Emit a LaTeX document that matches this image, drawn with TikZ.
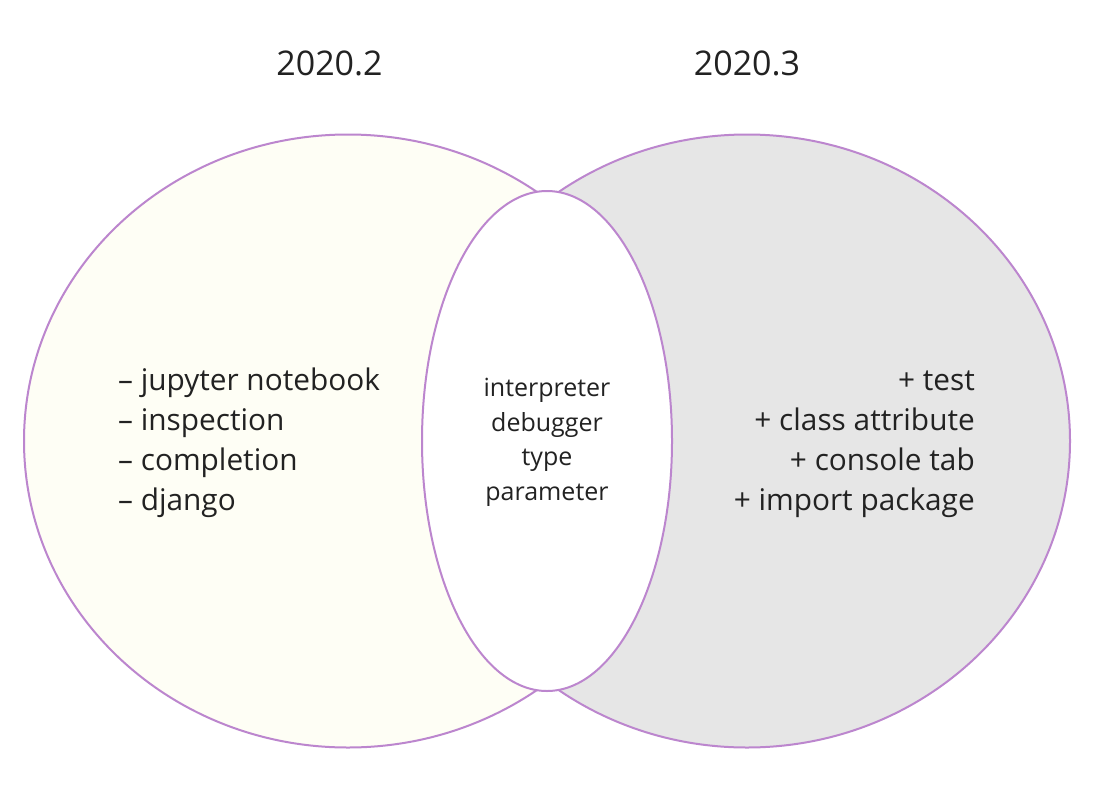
\documentclass[tikz,border=0pt]{standalone}
\usepackage{fontspec}
\setmainfont{Open Sans}
\definecolor{ringline}{HTML}{BC86CE}
\definecolor{oldfill}{HTML}{FEFEF5}
\definecolor{newfill}{HTML}{E6E6E6}
\definecolor{ink}{HTML}{222222}
\tikzset{
  ring/.style={draw=ringline,line width=2pt},
  title/.style={text=ink,font=\fontsize{34}{40}\selectfont,inner sep=0pt,anchor=base},
  item/.style={text=ink,font=\fontsize{29.8}{36}\selectfont,inner sep=0pt},
  shared/.style={text=ink,font=\fontsize{25}{30}\selectfont,inner sep=0pt,anchor=base}
}
\begin{document}
\begin{tikzpicture}[x=1pt,y=-1pt]
  \useasboundingbox[fill=white] (0,0) rectangle (1100,806);
  % the three rings
  \draw[ring,fill=oldfill] (348,441) ellipse [x radius=324,y radius=306.5];
  \draw[ring,fill=newfill] (747,441) ellipse [x radius=323,y radius=306.5];
  \draw[ring,fill=white] (547,441) ellipse [x radius=125,y radius=250];
  % versions
  \node[title] (vold) at (329.5,75) {2020.2};
  \node[title] (vnew) at (747,75) {2020.3};
  % lists
  \foreach \t [count=\i] in {jupyter notebook,inspection,completion,django}
    \node[item,anchor=base west] (drop\i) at (118,349.7+40.3*\i) {– \t};
  \foreach \t [count=\i] in {test,class attribute,console tab,import package}
    \node[item,anchor=base east] (add\i) at (975,349.7+40.3*\i) {+ \t};
  \foreach \t [count=\i] in {interpreter,debugger,type,parameter}
    \node[shared] (keep\i) at (547,362.5+34.4*\i) {\t};
\end{tikzpicture}
\end{document}
